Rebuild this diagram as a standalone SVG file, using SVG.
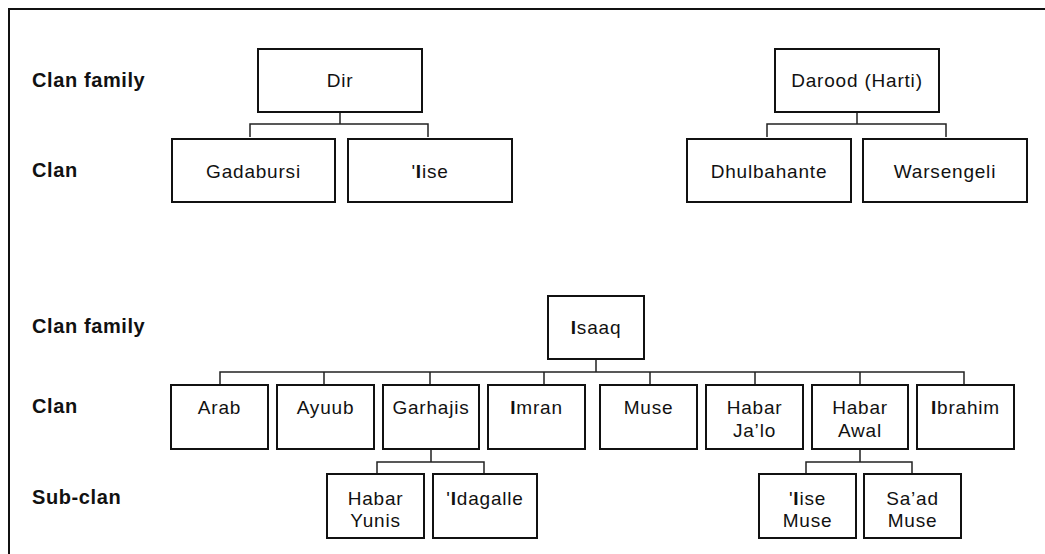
<svg xmlns="http://www.w3.org/2000/svg" width="1045" height="554" viewBox="0 0 1045 554">
<style>
.bg{fill:#fff}
.frame{fill:none;stroke:#111;stroke-width:2}
.box{fill:#fff;stroke:#111;stroke-width:2}
.conn{fill:none;stroke:#222;stroke-width:1.5}
.lbl{font-family:"Liberation Sans",Arial,sans-serif;font-weight:bold;font-size:20px;letter-spacing:0.6px;fill:#111}
.t{font-family:"Liberation Sans",Arial,sans-serif;font-size:19px;letter-spacing:0.8px;fill:#111;text-anchor:middle}
.b{font-weight:bold}
</style>
<rect class="bg" x="0" y="0" width="1045" height="554"/>
<path class="frame" d="M9,560 V9 H1050"/>
<g id="row-labels">
<text class="lbl" x="32" y="87">Clan family</text>
<text class="lbl" x="32" y="177">Clan</text>
<text class="lbl" x="32" y="333">Clan family</text>
<text class="lbl" x="32" y="413">Clan</text>
<text class="lbl" x="32" y="504">Sub-clan</text>
</g>
<g id="connectors">
<path class="conn" d="M340,112 V124 M250,137 V124 H428 V137"/>
<path class="conn" d="M857,112 V124 M767,137 V124 H946 V137"/>
<path class="conn" d="M596,360 V372 M220,384 V372 H964 V384 M324,372 V384 M430,372 V384 M544,372 V384 M650,372 V384 M755,372 V384 M860,372 V384"/>
<path class="conn" d="M431,449 V462 M377,474 V462 H484 V474"/>
<path class="conn" d="M860,449 V462 M806,474 V462 H912 V474"/>
</g>
<g id="dir"><rect class="box" x="258" y="49" width="164" height="63"/><text class="t" x="340" y="87">Dir</text></g>
<g id="gadabursi"><rect class="box" x="172" y="139" width="163" height="63"/><text class="t" x="253.5" y="178">Gadabursi</text></g>
<g id="iise"><rect class="box" x="348" y="139" width="164" height="63"/><text class="t" x="430" y="178">'<tspan class="b">I</tspan>ise</text></g>
<g id="darood"><rect class="box" x="775" y="49" width="164" height="63"/><text class="t" x="857" y="87">Darood (Harti)</text></g>
<g id="dhulbahante"><rect class="box" x="687" y="139" width="164" height="63"/><text class="t" x="769" y="178">Dhulbahante</text></g>
<g id="warsengeli"><rect class="box" x="863" y="139" width="164" height="63"/><text class="t" x="945" y="178">Warsengeli</text></g>
<g id="isaaq"><rect class="box" x="548" y="296" width="96" height="63"/><text class="t" x="596" y="334"><tspan class="b">I</tspan>saaq</text></g>
<g id="arab"><rect class="box" x="171" y="385" width="97" height="64"/><text class="t" x="219.5" y="414">Arab</text></g>
<g id="ayuub"><rect class="box" x="277" y="385" width="97" height="64"/><text class="t" x="325.5" y="414">Ayuub</text></g>
<g id="garhajis"><rect class="box" x="383" y="385" width="96" height="64"/><text class="t" x="431" y="414">Garhajis</text></g>
<g id="imran"><rect class="box" x="488" y="385" width="97" height="64"/><text class="t" x="536.5" y="414"><tspan class="b">I</tspan>mran</text></g>
<g id="muse"><rect class="box" x="600" y="385" width="97" height="64"/><text class="t" x="648.5" y="414">Muse</text></g>
<g id="habar-jalo"><rect class="box" x="706" y="385" width="97" height="64"/><text class="t" x="754.5" y="414">Habar</text><text class="t" x="754.5" y="437">Ja’lo</text></g>
<g id="habar-awal"><rect class="box" x="812" y="385" width="96" height="64"/><text class="t" x="860" y="414">Habar</text><text class="t" x="860" y="437">Awal</text></g>
<g id="ibrahim"><rect class="box" x="917" y="385" width="97" height="64"/><text class="t" x="965.5" y="414"><tspan class="b">I</tspan>brahim</text></g>
<g id="habar-yunis"><rect class="box" x="327" y="474" width="97" height="64"/><text class="t" x="375.5" y="505">Habar</text><text class="t" x="375.5" y="527">Yunis</text></g>
<g id="idagalle"><rect class="box" x="433" y="474" width="104" height="64"/><text class="t" x="485" y="505">'<tspan class="b">I</tspan>dagalle</text></g>
<g id="iise-muse"><rect class="box" x="759" y="474" width="97" height="64"/><text class="t" x="807.5" y="505">'<tspan class="b">I</tspan>ise</text><text class="t" x="807.5" y="527">Muse</text></g>
<g id="saad-muse"><rect class="box" x="864" y="474" width="97" height="64"/><text class="t" x="912.5" y="505">Sa’ad</text><text class="t" x="912.5" y="527">Muse</text></g>
</svg>
